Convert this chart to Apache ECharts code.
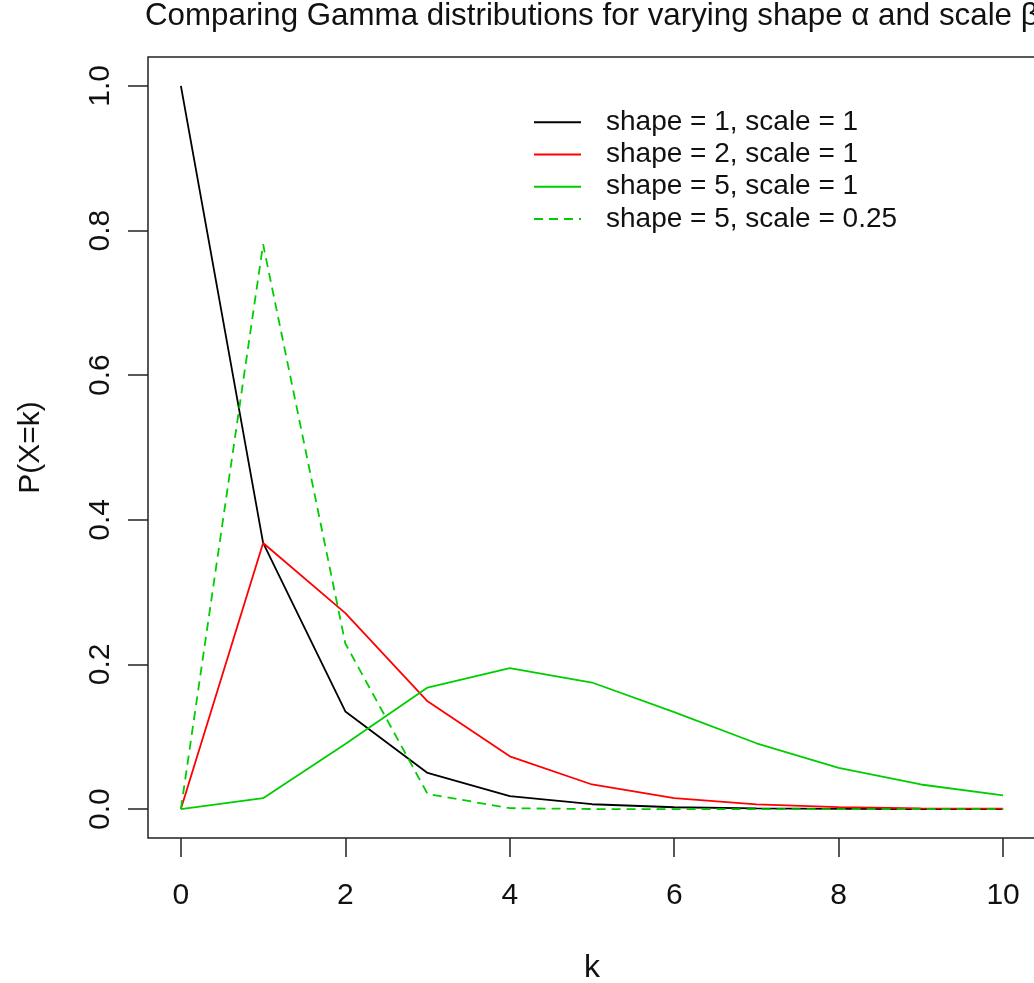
<!DOCTYPE html>
<html>
<head>
<meta charset="utf-8">
<title>Gamma distributions</title>
<script src="https://cdn.jsdelivr.net/npm/echarts@6/dist/echarts.min.js"></script>
<style>
  html, body { margin: 0; padding: 0; background: #fff; }
  #chart { width: 1034px; height: 983px; }
</style>
</head>
<body>
<div id="chart"></div>
<script>
// values, k = 0..10
const kValues = [0, 1, 2, 3, 4, 5, 6, 7, 8, 9, 10];
const shape1scale1 = [1.0, 0.368, 0.135, 0.050, 0.018, 0.0067, 0.0025, 0.0009, 0.0003, 0.0001, 0.00005];
const shape2scale1 = [0, 0.368, 0.271, 0.149, 0.073, 0.034, 0.015, 0.0064, 0.0027, 0.0011, 0.0005];
const shape5scale1 = [0, 0.015, 0.090, 0.168, 0.195, 0.175, 0.134, 0.091, 0.057, 0.034, 0.019];
const shape5scaleQ = [0, 0.781, 0.229, 0.021, 0.0012, 0.00005, 0, 0, 0, 0, 0];
const seriesNames = ['shape = 1, scale = 1', 'shape = 2, scale = 1', 'shape = 5, scale = 1', 'shape = 5, scale = 0.25'];
const xTicks = [0, 2, 4, 6, 8, 10];
const yTicks = [0, 0.2, 0.4, 0.6, 0.8, 1.0];

const FONT = "'Liberation Sans', Arial, sans-serif";
const pairs = vals => kValues.map((k, i) => [k, vals[i]]);

const chart = echarts.init(document.getElementById('chart'));

function lineSeries(name, vals, color, dashed) {
  return {
    name: name,
    type: 'line',
    data: pairs(vals),
    symbol: 'none',
    silent: true,
    animation: false,
    lineStyle: { color: color, width: 1.8, type: dashed ? [9, 6] : 'solid' },
    itemStyle: { color: color }
  };
}

chart.setOption({
  backgroundColor: '#fff',
  animation: false,
  title: {
    text: 'Comparing Gamma distributions for varying shape \u03b1 and scale \u03b2',
    left: 145,
    top: 1,
    padding: 0,
    textStyle: { fontFamily: FONT, fontSize: 31.3, fontWeight: 'normal', color: '#111' }
  },
  legend: {
    orient: 'vertical',
    left: 533,
    top: 106,
    padding: 0,
    itemWidth: 47,
    itemHeight: 14,
    itemGap: 0,
    data: seriesNames,
    itemStyle: { opacity: 0 },
    textStyle: { fontFamily: FONT, fontSize: 28, color: '#111', padding: [0, 0, 0, 20], lineHeight: 32.3 }
  },
  grid: {
    left: 148,
    top: 57,
    width: 888,
    height: 781,
    show: true,
    borderColor: '#222',
    borderWidth: 1.5,
    containLabel: false,
    outerBoundsMode: 'none'
  },
  xAxis: {
    type: 'value',
    min: -0.4,
    max: 10.4,
    name: 'k',
    nameLocation: 'middle',
    nameGap: 114,
    nameTextStyle: { fontFamily: FONT, fontSize: 32, color: '#111' },
    axisLine: { show: false, onZero: false },
    splitLine: { show: false },
    axisTick: { show: true, length: 19, customValues: xTicks, lineStyle: { color: '#222', width: 1.5 } },
    axisLabel: { customValues: xTicks, margin: 43, fontFamily: FONT, fontSize: 30, color: '#111' }
  },
  yAxis: {
    type: 'value',
    min: -0.04,
    max: 1.04,
    name: 'P(X=k)',
    nameLocation: 'middle',
    nameRotate: 90,
    nameGap: 102,
    nameTextStyle: { fontFamily: FONT, fontSize: 30, color: '#111' },
    axisLine: { show: false, onZero: false },
    splitLine: { show: false },
    axisTick: { show: true, length: 20, customValues: yTicks, lineStyle: { color: '#222', width: 1.5 } },
    axisLabel: {
      customValues: yTicks,
      rotate: 90,
      margin: 32,
      fontFamily: FONT,
      fontSize: 30,
      color: '#111',
      formatter: v => v.toFixed(1)
    }
  },
  series: [
    lineSeries(seriesNames[0], shape1scale1, '#000000', false),
    lineSeries(seriesNames[1], shape2scale1, '#ff0000', false),
    lineSeries(seriesNames[2], shape5scale1, '#00cd00', false),
    lineSeries(seriesNames[3], shape5scaleQ, '#00cd00', true)
  ]
});
</script>
</body>
</html>
